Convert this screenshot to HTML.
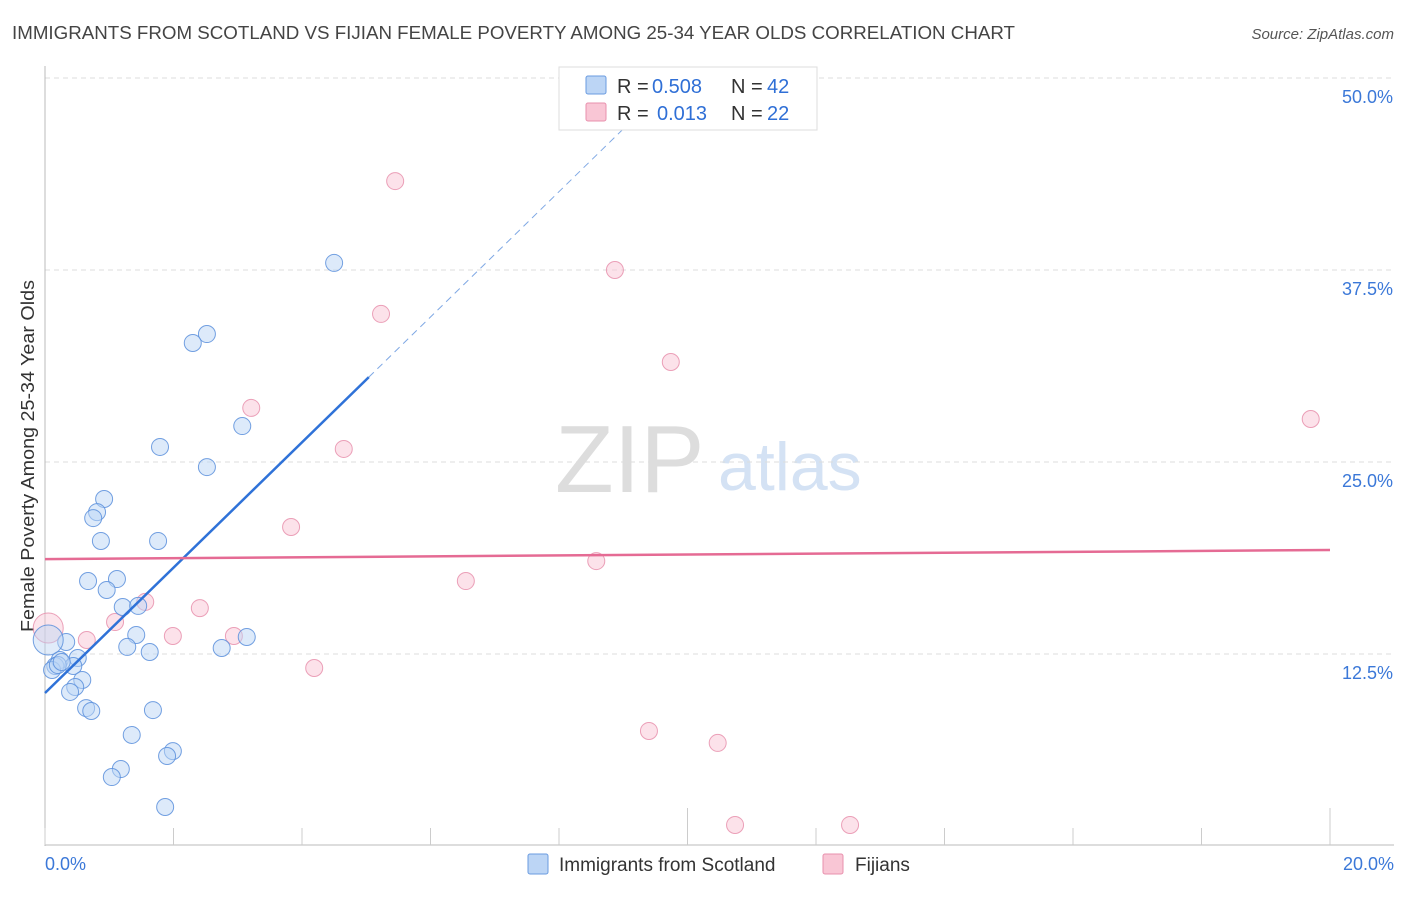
<!DOCTYPE html>
<html><head><meta charset="utf-8"><style>
body{margin:0;background:#fff;font-family:"Liberation Sans",sans-serif;}
svg text{font-family:"Liberation Sans",sans-serif;}
</style></head><body>
<svg id="chart" width="1406" height="892">
<text x="12" y="39" font-size="18" fill="#444" textLength="1003" lengthAdjust="spacingAndGlyphs">IMMIGRANTS FROM SCOTLAND VS FIJIAN FEMALE POVERTY AMONG 25-34 YEAR OLDS CORRELATION CHART</text>
<text x="1394" y="39" font-size="15" fill="#555" font-style="italic" text-anchor="end">Source: ZipAtlas.com</text>
<text x="555" y="492" font-size="96" fill="#ddd" font-family="Liberation Serif">ZIP</text>
<text x="718" y="490" font-size="68" fill="#d4e2f4">atlas</text>
<text transform="translate(34,456) rotate(-90)" font-size="18" fill="#333" text-anchor="middle" textLength="352" lengthAdjust="spacingAndGlyphs">Female Poverty Among 25-34 Year Olds</text>
<g id="grid"></g><g id="marks"></g>
<g>
<rect x="559" y="67" width="258" height="63" fill="#fff" stroke="#ddd"/>
<rect x="586" y="76" width="20" height="18" fill="#bcd5f5" stroke="#6a9be0" rx="2"/>
<rect x="586" y="103" width="20" height="18" fill="#f9c6d5" stroke="#e890ad" rx="2"/>
<text x="617" y="93" font-size="20" fill="#333">R =</text>
<text x="652" y="93" font-size="20" fill="#2f6fd6">0.508</text>
<text x="731" y="93" font-size="20" fill="#333">N =</text>
<text x="767" y="93" font-size="20" fill="#2f6fd6">42</text>
<text x="617" y="120" font-size="20" fill="#333">R =</text>
<text x="657" y="120" font-size="20" fill="#2f6fd6">0.013</text>
<text x="731" y="120" font-size="20" fill="#333">N =</text>
<text x="767" y="120" font-size="20" fill="#2f6fd6">22</text>
</g>
<g>
<rect x="528" y="854" width="20" height="20" fill="#bcd5f5" stroke="#6a9be0" rx="2"/>
<text x="559" y="871" font-size="19" fill="#333">Immigrants from Scotland</text>
<rect x="823" y="854" width="20" height="20" fill="#f9c6d5" stroke="#e890ad" rx="2"/>
<text x="855" y="871" font-size="19" fill="#333">Fijians</text>
</g>
</svg>
<script>
const blueX=[4.50,2.52,2.30,1.79,3.07,2.52,0.92,0.81,0.75,0.87,1.76,0.67,1.12,0.96,1.21,1.45,1.42,1.28,1.63,2.75,3.14,0.33,0.23,0.51,0.44,0.16,0.11,0.05,0.58,0.47,0.39,0.64,0.72,1.68,1.35,1.99,1.90,1.18,1.04,1.87,0.20,0.26];
const blueY=[37.96,33.33,32.75,25.98,27.34,24.67,22.59,21.74,21.35,19.86,19.86,17.25,17.38,16.67,15.56,15.63,13.74,12.96,12.63,12.89,13.61,13.28,12.11,12.24,11.72,11.72,11.46,13.41,10.81,10.35,10.03,8.98,8.79,8.85,7.23,6.18,5.86,5.01,4.49,2.54,11.78,11.98];
const pinkX=[5.45,8.87,5.23,9.74,3.21,4.65,19.70,3.83,6.55,8.58,1.56,2.41,1.09,2.94,1.99,0.65,4.19,9.40,10.47,10.74,12.53,0.05];
const pinkY=[43.29,37.50,34.64,31.51,28.52,25.85,27.80,20.77,17.25,18.55,15.89,15.49,14.58,13.67,13.67,13.41,11.59,7.49,6.71,1.37,1.37,14.19];
const yTicks=[12.5,25,37.5,50];
const yTickLabels=["12.5%","25.0%","37.5%","50.0%"];
const xTickVals=[0,2,4,6,8,10,12,14,16,18,20];
const blueFit=[9.96,4.08];
const pinkFit=[18.68,0.0295];
const NS="http://www.w3.org/2000/svg";
const sx=v=>45+v*64.25, sy=v=>846-v*15.36;
function mk(t,a,p){const e=document.createElementNS(NS,t);for(const k in a)e.setAttribute(k,a[k]);p.appendChild(e);return e;}
const g=document.getElementById('grid'),m=document.getElementById('marks');
yTicks.forEach((v,i)=>{
 const l=mk('line',{x1:45,x2:1394,y1:sy(v),y2:sy(v),stroke:'#ddd','stroke-dasharray':'5,4'},g);
 
 
 const t=mk('text',{x:1393,y:sy(v)+25,'font-size':18,fill:'#3b78d8','text-anchor':'end'},g);
 t.textContent=yTickLabels[i];
 
 
});
mk('line',{x1:45,x2:45,y1:66,y2:846,stroke:'#bbb'},g);
mk('line',{x1:45,x2:1394,y1:845,y2:845,stroke:'#bbb'},g);
xTickVals.forEach(v=>{
 const long=(v==10||v==20);
 const l=mk('line',{x1:sx(v),x2:sx(v),y1:long?808:828,y2:845,stroke:'#ccc'},g);
 
 
});
[[0,"0.0%","start",45],[20,"20.0%","end",1394]].forEach(d=>{
 const t=mk('text',{x:d[3],y:870,'font-size':18,fill:'#3b78d8','text-anchor':d[2]},g);
 t.textContent=d[1];
 
 
});
function dots(X,Y,fill,stroke,name){
 X.forEach((x,i)=>{
  const big=x<0.1;
  const c=mk('circle',{cx:sx(x),cy:sy(Y[i]),r:big?15:8.5,fill:fill,'fill-opacity':big?0.45:0.5,stroke:stroke,'stroke-width':1,'stroke-opacity':0.85},m);
  
  
 });
}
dots(pinkX,pinkY,'#f9c6d5','#e890ad','fijians-point');
dots(blueX,blueY,'#bcd5f5','#5b8fdc','scotland-point');
const bx1=5.04,bx2=(50-blueFit[0])/blueFit[1];
const bl=mk('line',{x1:sx(0),y1:sy(blueFit[0]),x2:sx(bx1),y2:sy(blueFit[0]+blueFit[1]*bx1),stroke:'#2f72d8','stroke-width':2.5},m);


const bd=mk('line',{x1:sx(bx1),y1:sy(blueFit[0]+blueFit[1]*bx1),x2:sx(bx2),y2:sy(50),stroke:'#7fa8e4','stroke-width':1,'stroke-dasharray':'7,5'},m);


const pl=mk('line',{x1:sx(0),y1:sy(pinkFit[0]),x2:sx(20),y2:sy(pinkFit[0]+pinkFit[1]*20),stroke:'#e56b94','stroke-width':2.5},m);


</script>
</body></html>
